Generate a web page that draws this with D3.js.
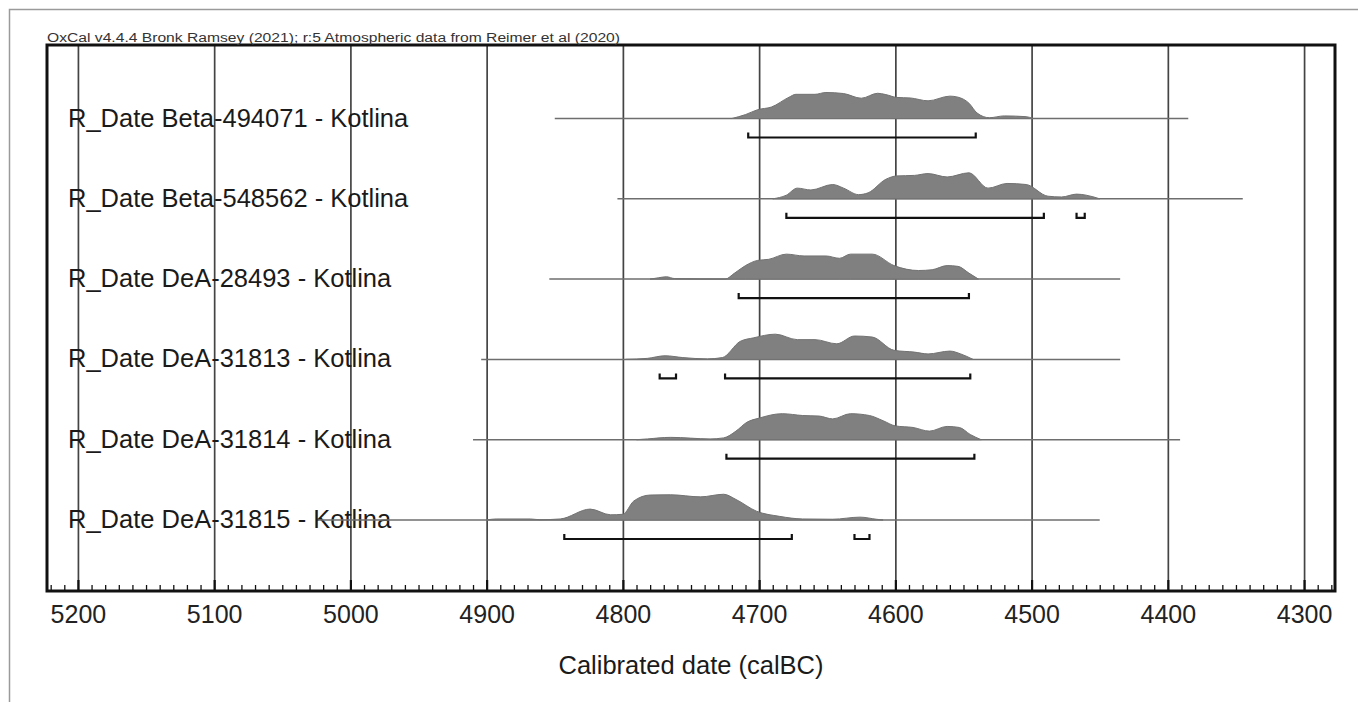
<!DOCTYPE html>
<html>
<head>
<meta charset="utf-8">
<script src="https://d3js.org/d3.v7.min.js"></script>
<style>
body { margin: 0; background: #fff; }
text { font-family: "Liberation Sans", Arial, sans-serif; }
</style>
</head>
<body>
<svg width="1358" height="702"></svg>
<script>
// sample names, top to bottom
var labels = [
  "R_Date Beta-494071 - Kotlina",
  "R_Date Beta-548562 - Kotlina",
  "R_Date DeA-28493 - Kotlina",
  "R_Date DeA-31813 - Kotlina",
  "R_Date DeA-31814 - Kotlina",
  "R_Date DeA-31815 - Kotlina"
];

// extent of each thin line (calBC)
var lineFrom = [4850, 4804, 4854, 4904, 4910, 5024];
var lineTo   = [4385, 4345, 4435, 4435, 4391, 4450];

// 95.4% ranges (calBC)
var ranges = [
  [[4708, 4541]],
  [[4680, 4491], [4467, 4461]],
  [[4715, 4546]],
  [[4773, 4761], [4725, 4545]],
  [[4724, 4542]],
  [[4843, 4676], [4630, 4619]]
];

// relative probability, [year calBC, p]
var dens1 = [[4720,0],[4710,0.15],[4701,0.34],[4691,0.44],[4678,0.82],[4673,0.93],[4659,0.93],[4651,1.0],[4638,0.96],[4625,0.78],[4613,0.97],[4607,0.92],[4599,0.81],[4589,0.79],[4576,0.68],[4560,0.86],[4554,0.82],[4546,0.59],[4540,0.21],[4531,0.03],[4520,0.1],[4504,0.07],[4499,0]];
var dens2 = [[4690,0],[4680,0.14],[4672,0.41],[4662,0.34],[4646,0.55],[4638,0.41],[4627,0.16],[4620,0.23],[4607,0.75],[4599,0.88],[4586,0.9],[4576,0.97],[4562,0.84],[4546,1.0],[4532,0.41],[4518,0.59],[4504,0.55],[4488,0.1],[4478,0.07],[4467,0.18],[4460,0.14],[4450,0]];
var dens3 = [[4780,0],[4774,0.05],[4768,0.09],[4762,0.02],[4725,0],[4718,0.23],[4710,0.52],[4701,0.72],[4693,0.76],[4680,0.96],[4667,0.89],[4651,0.89],[4641,0.8],[4633,0.96],[4617,0.96],[4601,0.52],[4583,0.33],[4573,0.36],[4562,0.52],[4554,0.49],[4546,0.23],[4539,0]];
var dens4 = [[4798,0],[4782,0.04],[4769,0.14],[4756,0.07],[4738,0.02],[4727,0.07],[4714,0.69],[4704,0.83],[4688,0.97],[4672,0.76],[4659,0.76],[4643,0.6],[4630,0.9],[4617,0.86],[4601,0.35],[4586,0.28],[4576,0.21],[4560,0.32],[4552,0.21],[4543,0]];
var dens5 = [[4790,0],[4782,0.03],[4765,0.09],[4736,0.03],[4726,0.07],[4717,0.33],[4709,0.67],[4700,0.83],[4683,1.0],[4668,0.93],[4656,0.91],[4646,0.8],[4633,1.0],[4619,0.93],[4609,0.73],[4600,0.53],[4587,0.47],[4575,0.33],[4562,0.51],[4553,0.47],[4545,0.2],[4537,0]];
var dens6 = [[4900,0],[4893,0.04],[4868,0.04],[4861,0.01],[4846,0.04],[4824,0.42],[4809,0.2],[4800,0.22],[4792,0.73],[4780,0.96],[4765,0.97],[4743,0.89],[4726,0.99],[4717,0.79],[4702,0.34],[4685,0.14],[4668,0.04],[4646,0.03],[4626,0.11],[4614,0.03],[4609,0]];
var densities = [dens1, dens2, dens3, dens4, dens5, dens6];

var majorTicks = [5200, 5100, 5000, 4900, 4800, 4700, 4600, 4500, 4400, 4300];

// plot box
var pLeft = 47, pRight = 1335, pTop = 45, pBottom = 591;

var svg = d3.select("svg");

// outer page frame
svg.append("path")
  .attr("d", "M9.5,702 V9.5 H1358")
  .attr("fill", "none").attr("stroke", "#9a9a9a").attr("stroke-width", 1.5);

var x = d3.scaleLinear().domain([5222.7, 4277.3]).range([pLeft, pRight]);
var y = d3.scalePoint().domain(labels).range([118.5, 520]);
var h = d3.scaleLinear().domain([0, 1]).range([0, 26]);

// grid lines
svg.append("g")
  .attr("transform", "translate(0," + pBottom + ")")
  .call(d3.axisBottom(x).tickValues(majorTicks).tickSize(-(pBottom - pTop)).tickFormat(""))
  .call(function(g) {
    g.select(".domain").remove();
    g.selectAll(".tick line").attr("stroke", "#444").attr("stroke-width", 1.7);
  });

// minor ticks (inside)
var minor = d3.range(5220, 4279, -10).filter(function(v) { return v % 100 != 0; });
svg.append("g")
  .attr("transform", "translate(0," + pBottom + ")")
  .call(d3.axisBottom(x).tickValues(minor).tickSize(-6).tickFormat(""))
  .call(function(g) {
    g.select(".domain").remove();
    g.selectAll(".tick line").attr("stroke", "#111").attr("stroke-width", 1.3);
  });

// major tick stubs + labels
svg.append("g")
  .attr("transform", "translate(0," + pBottom + ")")
  .call(d3.axisBottom(x).tickValues(majorTicks).tickSize(-11).tickPadding(14).tickFormat(d3.format("d")))
  .call(function(g) {
    g.select(".domain").remove();
    g.selectAll(".tick line").attr("stroke", "#111").attr("stroke-width", 2.2);
    g.selectAll(".tick text")
      .attr("font-family", "'Liberation Sans', Arial, sans-serif")
      .attr("font-size", "25px").attr("fill", "#222");
  });

// row labels
svg.append("g").selectAll("text").data(labels).enter().append("text")
  .attr("x", 68)
  .attr("y", function(d) { return y(d) + 8; })
  .attr("font-size", "25.5px")
  .attr("fill", "#1a1a1a")
  .text(function(d) { return d; });

// thin lines
svg.append("g").selectAll("line").data(labels).enter().append("line")
  .attr("x1", function(d, i) { return x(lineFrom[i]); })
  .attr("x2", function(d, i) { return x(lineTo[i]); })
  .attr("y1", function(d) { return y(d); })
  .attr("y2", function(d) { return y(d); })
  .attr("stroke", "#6e6e6e").attr("stroke-width", 1.5);

// distributions
svg.append("g").selectAll("path").data(densities).enter().append("path")
  .attr("d", function(d, i) {
    var base = y(labels[i]);
    return d3.area()
      .x(function(p) { return x(p[0]); })
      .y0(base)
      .y1(function(p) { return base - h(p[1]); })
      .curve(d3.curveMonotoneX)(d);
  })
  .attr("fill", "#808080").attr("stroke", "#727272").attr("stroke-width", 1);

// range brackets
ranges.forEach(function(r, i) {
  var yy = y(labels[i]) + 19;
  svg.append("g").selectAll("path").data(r).enter().append("path")
    .attr("d", function(d) {
      var a = x(d[0]), b = x(d[1]);
      return "M" + a + "," + (yy - 5) + "V" + yy + "H" + b + "V" + (yy - 5);
    })
    .attr("fill", "none").attr("stroke", "#111").attr("stroke-width", 2.2);
});

// plot frame
svg.append("rect")
  .attr("x", pLeft).attr("y", pTop)
  .attr("width", pRight - pLeft).attr("height", pBottom - pTop)
  .attr("fill", "none").attr("stroke", "#111").attr("stroke-width", 3);

// header
svg.append("text")
  .attr("x", 47).attr("y", 42)
  .attr("font-size", "12.5px").attr("fill", "#333")
  .attr("textLength", 573).attr("lengthAdjust", "spacingAndGlyphs")
  .text("OxCal v4.4.4 Bronk Ramsey (2021); r:5 Atmospheric data from Reimer et al (2020)");

// axis title
svg.append("text")
  .attr("x", (pLeft + pRight) / 2).attr("y", 674)
  .attr("text-anchor", "middle")
  .attr("font-size", "25.5px").attr("fill", "#1a1a1a")
  .text("Calibrated date (calBC)");
</script>
</body>
</html>
